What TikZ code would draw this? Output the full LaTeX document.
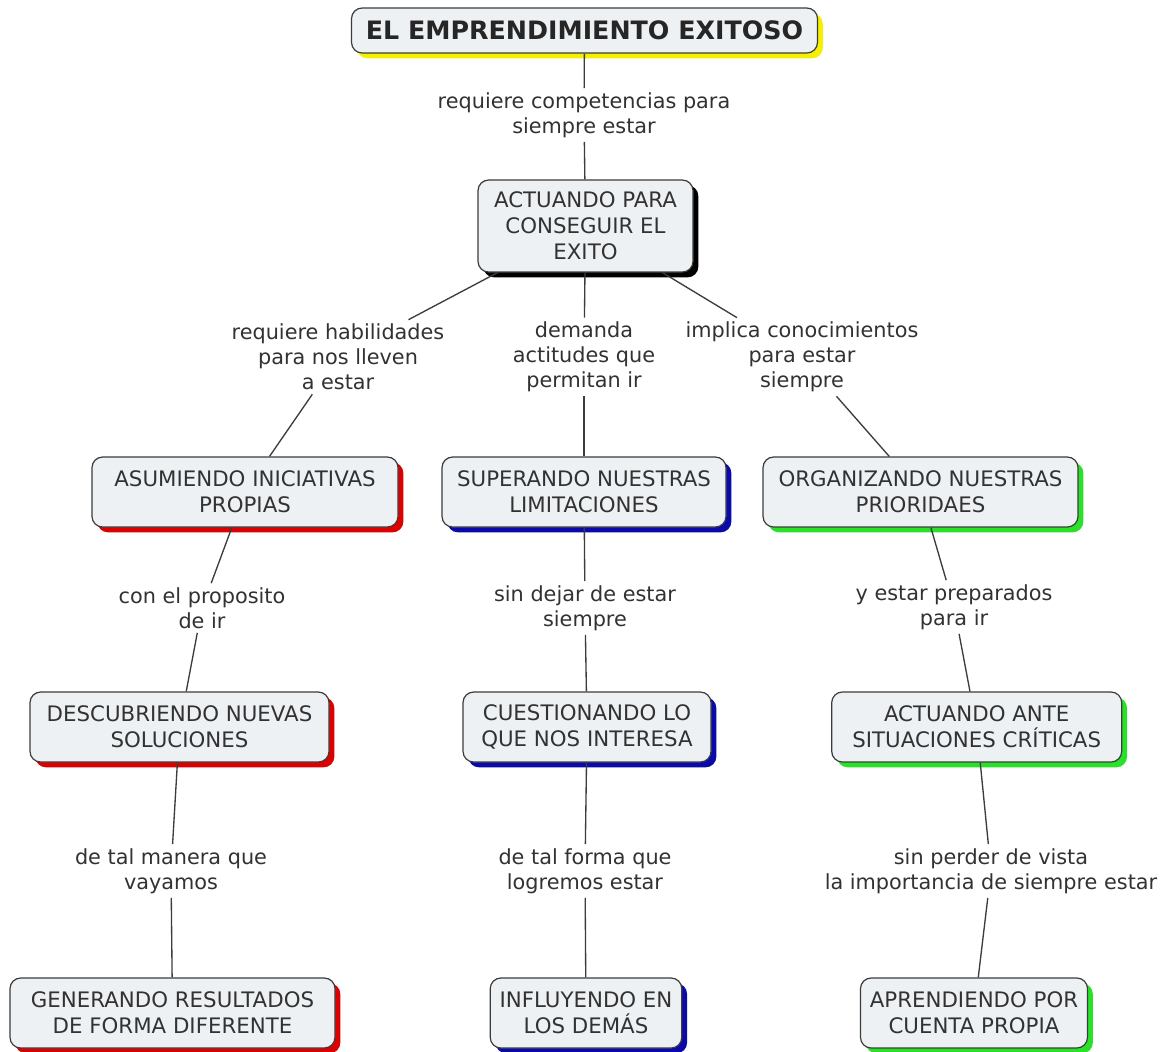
\documentclass[tikz,border=0pt]{standalone}
\usepackage{fontspec}
\setmainfont{DejaVu Sans}
\usetikzlibrary{shadows}
\definecolor{txt}{RGB}{50,50,50}
\definecolor{cfill}{RGB}{238,241,244}
\definecolor{cline}{RGB}{60,60,60}
\definecolor{shred}{RGB}{220,0,0}
\definecolor{shblue}{RGB}{10,10,170}
\definecolor{shgreen}{RGB}{40,225,40}
\definecolor{shyellow}{RGB}{245,240,0}
\tikzset{
  concept/.style={draw=cline, line width=0.9pt, fill=cfill, rounded corners=8pt,
    align=center, text=txt, inner xsep=7pt, inner ysep=2pt,
    font=\fontsize{16pt}{19.5pt}\selectfont},
  shcol/.style={general shadow={fill=#1, shadow xshift=4pt, shadow yshift=-4pt}},
  linkph/.style={align=center, text=txt, inner xsep=2pt, inner ysep=3pt,
    font=\fontsize{15.6pt}{18.75pt}\selectfont},
  conn/.style={draw=cline, line width=1pt}
}
\begin{document}
\begin{tikzpicture}[x=0.75pt,y=-0.75pt]
\path[use as bounding box, fill=white] (0,0) rectangle (1165,1051);

% concepts
\node[concept, shcol=shyellow, minimum width=349.5pt, minimum height=33.75pt,
  font=\fontsize{19pt}{22pt}\selectfont\bfseries, text=black!85] (top) at (584.5,30.5) {EL EMPRENDIMIENTO EXITOSO};
\node[concept, shcol=black, minimum width=161.25pt, minimum height=69pt] (act) at (585.5,226) {ACTUANDO PARA\\CONSEGUIR EL\\EXITO};

\node[concept, shcol=shred, minimum width=229.5pt, minimum height=52.5pt] (asu) at (245,492) {ASUMIENDO INICIATIVAS\\PROPIAS};
\node[concept, shcol=shblue, minimum width=213pt, minimum height=52.5pt] (sup) at (584,492) {SUPERANDO NUESTRAS\\LIMITACIONES};
\node[concept, shcol=shgreen, minimum width=236.25pt, minimum height=52.5pt] (org) at (920.5,492) {ORGANIZANDO NUESTRAS\\PRIORIDAES};

\node[concept, shcol=shred, minimum width=224.25pt, minimum height=52.5pt] (des) at (179.5,727) {DESCUBRIENDO NUEVAS\\SOLUCIONES};
\node[concept, shcol=shblue, minimum width=186pt, minimum height=52.5pt] (cue) at (587,727) {CUESTIONANDO LO\\QUE NOS INTERESA};
\node[concept, shcol=shgreen, minimum width=217.5pt, minimum height=52.5pt] (ant) at (976.7,727) {ACTUANDO ANTE\\SITUACIONES CRÍTICAS};

\node[concept, shcol=shred, minimum width=243.75pt, minimum height=52.5pt] (gen) at (172.5,1013) {GENERANDO RESULTADOS\\DE FORMA DIFERENTE};
\node[concept, shcol=shblue, minimum width=111pt, minimum height=52.5pt] (inf) at (586,1013) {INFLUYENDO EN\\LOS DEMÁS};
\node[concept, shcol=shgreen, minimum width=162pt, minimum height=52.5pt] (apr) at (974,1013) {APRENDIENDO POR\\CUENTA PROPIA};

% linking phrases
\node[linkph] (l0) at (584,115) {requiere competencias para\\siempre estar};
\node[linkph] (l1) at (338,357) {requiere habilidades\\para nos lleven\\a estar};
\node[linkph] (l2) at (584,357) {demanda\\actitudes que\\permitan ir};
\node[linkph] (l3) at (802,357) {implica conocimientos\\para estar\\siempre};
\node[linkph] (l4) at (202,608) {con el proposito\\de ir};
\node[linkph] (l5) at (585,608) {sin dejar de estar\\siempre};
\node[linkph] (l6) at (954,607) {y estar preparados\\para ir};
\node[linkph] (l7) at (171,871) {de tal manera que\\vayamos};
\node[linkph] (l8) at (585,871) {de tal forma que\\logremos estar};
\node[linkph] (l9) at (991,871) {sin perder de vista\\la importancia de siempre estar};

% connectors
\draw[conn] (top) -- (l0); \draw[conn] (l0) -- (act);
\draw[conn] (act) -- (l1); \draw[conn] (l1) -- (asu);
\draw[conn] (act) -- (l2); \draw[conn] (l2) -- (sup);
\draw[conn] (act) -- (l3); \draw[conn] (l3) -- (org);
\draw[conn] (asu) -- (l4); \draw[conn] (l4) -- (des);
\draw[conn] (sup) -- (l5); \draw[conn] (l5) -- (cue);
\draw[conn] (org) -- (l6); \draw[conn] (l6) -- (ant);
\draw[conn] (des) -- (l7); \draw[conn] (l7) -- (gen);
\draw[conn] (cue) -- (l8); \draw[conn] (l8) -- (inf);
\draw[conn] (ant) -- (l9); \draw[conn] (l9) -- (apr);
\end{tikzpicture}
\end{document}
